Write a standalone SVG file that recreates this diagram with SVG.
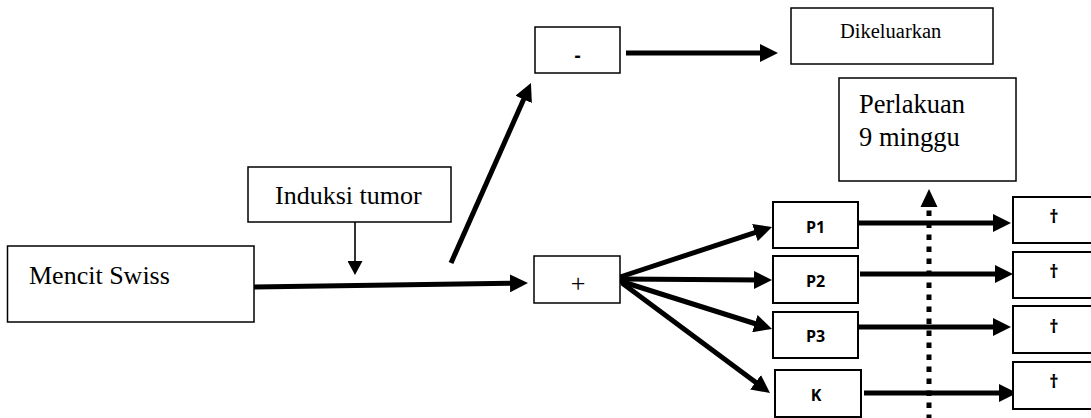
<svg xmlns="http://www.w3.org/2000/svg" width="1091" height="418" viewBox="0 0 1091 418">
<style>
.box{fill:#fff;stroke:#000;stroke-width:1.5}
.box2{fill:#fff;stroke:#000;stroke-width:2}
.serif{font-family:"Liberation Serif","Times New Roman",serif;fill:#000}
.sans{font-family:"Open Sans","Noto Sans",sans-serif;font-weight:bold;fill:#000}
.thick{stroke:#000;stroke-width:5;fill:none}
</style>
<defs>
<marker id="ah" markerUnits="userSpaceOnUse" viewBox="0 0 18 18" refX="8" refY="9" markerWidth="18" markerHeight="18" orient="auto">
<path d="M0,0 L18,9 L0,18 z" fill="#000"/>
</marker>
<marker id="ahs" markerUnits="userSpaceOnUse" viewBox="0 0 14 15" refX="4" refY="7.5" markerWidth="14" markerHeight="15" orient="auto">
<path d="M0,0 L14,7.5 L0,15 z" fill="#000"/>
</marker>
</defs>
<g id="connectors">
<line class="thick" x1="254" y1="287" x2="518" y2="283.2" marker-end="url(#ah)"/>
<line class="thick" x1="451" y1="263" x2="526.9" y2="92.1" marker-end="url(#ah)"/>
<line class="thick" x1="626" y1="53" x2="768" y2="53" marker-end="url(#ah)"/>
<line x1="355" y1="222" x2="355" y2="265" stroke="#000" stroke-width="1.6" marker-end="url(#ahs)"/>
<line class="thick" x1="620" y1="277" x2="762.5" y2="230.1" marker-end="url(#ah)"/>
<line class="thick" x1="620" y1="279" x2="762" y2="280" marker-end="url(#ah)"/>
<line class="thick" x1="620" y1="281" x2="762.5" y2="326" marker-end="url(#ah)"/>
<line class="thick" x1="622" y1="283" x2="762" y2="387" marker-end="url(#ah)"/>
<line class="thick" x1="858" y1="223" x2="1001" y2="223" marker-end="url(#ah)"/>
<line class="thick" x1="860" y1="274" x2="1003" y2="274" marker-end="url(#ah)"/>
<line class="thick" x1="858" y1="327" x2="1001" y2="327" marker-end="url(#ah)"/>
<line class="thick" x1="864" y1="393" x2="1007" y2="393" marker-end="url(#ah)"/>
<line x1="929" y1="420" x2="929" y2="206" stroke="#000" stroke-width="5" stroke-dasharray="5.5 6.5"/>
<path d="M920.5,207 L929,189 L937.5,207 z" fill="#000"/>
</g>
<g id="mencit">
<rect class="box" x="7.5" y="246" width="246.5" height="76"/>
<text class="serif" x="29" y="284" font-size="26">Mencit Swiss</text>
</g>
<g id="induksi">
<rect class="box" x="248" y="167" width="203" height="55"/>
<text class="serif" x="275" y="204" font-size="26">Induksi tumor</text>
</g>
<g id="minus">
<rect class="box" x="535" y="27" width="85" height="46"/>
<text class="sans" x="577.5" y="62" font-size="19" text-anchor="middle">-</text>
</g>
<g id="dikeluarkan">
<rect class="box" x="791" y="8" width="202" height="56"/>
<text class="serif" x="840" y="38" font-size="20.5">Dikeluarkan</text>
</g>
<g id="perlakuan">
<rect class="box" x="839" y="78" width="177" height="103"/>
<text class="serif" x="859" y="113" font-size="26.5">Perlakuan</text>
<text class="serif" x="859" y="146" font-size="26.5">9 minggu</text>
</g>
<g id="plus">
<rect class="box" x="534" y="256" width="86" height="47"/>
<text class="serif" x="578" y="292" font-size="26" text-anchor="middle">+</text>
</g>
<g id="p1">
<rect class="box2" x="773" y="202" width="85" height="46"/>
<text class="sans" x="815.5" y="233" font-size="16" text-anchor="middle">P1</text>
</g>
<g id="p2">
<rect class="box2" x="773" y="256" width="85" height="47"/>
<text class="sans" x="815.5" y="287" font-size="16" text-anchor="middle">P2</text>
</g>
<g id="p3">
<rect class="box2" x="773" y="312" width="85" height="46"/>
<text class="sans" x="815.5" y="342" font-size="16" text-anchor="middle">P3</text>
</g>
<g id="k">
<rect class="box2" x="775" y="370" width="86" height="47"/>
<text class="sans" x="816" y="401" font-size="16" text-anchor="middle">K</text>
</g>
<g id="d1">
<rect class="box2" x="1013" y="197" width="100" height="46"/>
<text class="sans" x="1054" y="223" font-size="18" text-anchor="middle">†</text>
</g>
<g id="d2">
<rect class="box2" x="1013" y="252" width="100" height="46"/>
<text class="sans" x="1054" y="278" font-size="18" text-anchor="middle">†</text>
</g>
<g id="d3">
<rect class="box2" x="1013" y="306" width="100" height="47"/>
<text class="sans" x="1054" y="333" font-size="18" text-anchor="middle">†</text>
</g>
<g id="d4">
<rect class="box2" x="1013" y="362" width="100" height="47"/>
<text class="sans" x="1054" y="388" font-size="18" text-anchor="middle">†</text>
</g>
</svg>
